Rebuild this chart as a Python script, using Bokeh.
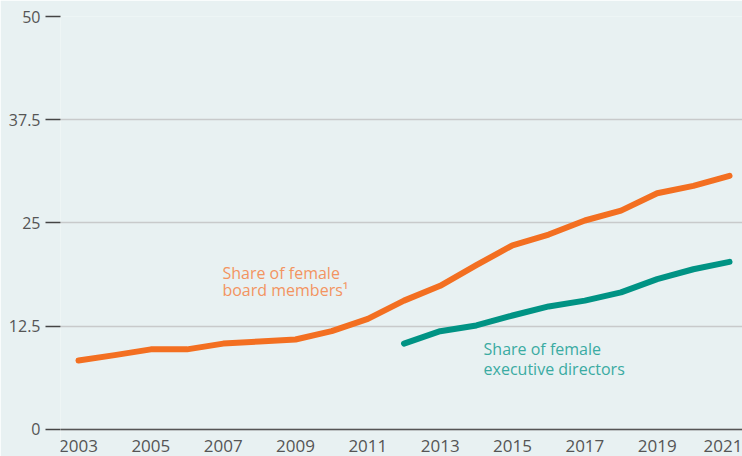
from bokeh.plotting import figure
from bokeh.models import FixedTicker, Range1d
from bokeh.core.properties import value
from bokeh.embed import file_html
from bokeh.resources import INLINE

# ---- data ----
years_board = [2003, 2004, 2005, 2006, 2007, 2008, 2009, 2010, 2011, 2012,
               2013, 2014, 2015, 2016, 2017, 2018, 2019, 2020, 2021]
share_board = [8.35, 9.0, 9.7, 9.7, 10.4, 10.65, 10.9, 11.9, 13.4, 15.6,
               17.4, 19.9, 22.3, 23.6, 25.3, 26.5, 28.6, 29.5, 30.7]

years_exec = [2012, 2013, 2014, 2015, 2016, 2017, 2018, 2019, 2020, 2021]
share_exec = [10.4, 11.9, 12.6, 13.8, 14.9, 15.6, 16.6, 18.2, 19.4, 20.3]

x_ticks = [2003, 2005, 2007, 2009, 2011, 2013, 2015, 2017, 2019, 2021]
y_ticks = [0, 12.5, 25, 37.5, 50]
y_tick_labels = {0: "0", 12.5: "12.5", 25: "25", 37.5: "37.5", 50: "50"}

board_label = ["Share of female", "board members\u00b9"]
board_label_x = [2006.98, 2006.98]
board_label_y = [18.95, 16.83]

exec_label = ["Share of female", "executive directors"]
exec_label_x = [2014.2, 2014.2]
exec_label_y = [9.69, 7.38]

# ---- style ----
BG = "#e8f1f2"
ORANGE = "#f36f21"
TEAL = "#009384"
ORANGE_TXT = "#f39461"
TEAL_TXT = "#3aaba2"
TXT = "#555555"
FONT = "Open Sans"

p = figure(width=742, height=456, output_backend="svg", toolbar_location=None,
           x_range=Range1d(2002.502, 2021.359), y_range=Range1d(-3.27, 50),
           min_border_left=60, min_border_right=0, min_border_top=16,
           min_border_bottom=0)
p.background_fill_color = BG
p.border_fill_color = BG
p.outline_line_color = None

p.xgrid.grid_line_color = None
p.ygrid.grid_line_color = "#c8cacb"
p.ygrid.grid_line_width = 1.5
p.ygrid.ticker = FixedTicker(ticks=y_ticks)

# y axis
p.yaxis.ticker = FixedTicker(ticks=y_ticks)
p.yaxis.major_label_overrides = y_tick_labels
p.yaxis.axis_line_color = None
p.yaxis.major_tick_out = 15
p.yaxis.major_tick_in = 0
p.yaxis.major_tick_line_color = "#444444"
p.yaxis.major_tick_line_width = 1.5
p.yaxis.minor_tick_line_color = None
p.yaxis.major_label_standoff = 5
p.yaxis.major_label_text_font = FONT
p.yaxis.major_label_text_font_size = "16px"
p.yaxis.major_label_text_color = TXT

# x axis (drawn at y = 0 inside the frame)
p.xaxis.fixed_location = 0
p.xaxis.ticker = FixedTicker(ticks=x_ticks)
p.xaxis.axis_line_color = "#555555"
p.xaxis.axis_line_width = 1.5
p.xaxis.major_tick_line_color = None
p.xaxis.minor_tick_line_color = None
p.xaxis.major_label_standoff = 5
p.xaxis.major_label_text_font = FONT
p.xaxis.major_label_text_font_size = "17px"
p.xaxis.major_label_text_color = TXT

# lines
p.line(years_board, share_board, line_color=ORANGE, line_width=6,
       line_cap="round", line_join="round")
p.line(years_exec, share_exec, line_color=TEAL, line_width=6,
       line_cap="round", line_join="round")

# labels
p.text(x=board_label_x, y=board_label_y, text=board_label,
       text_color=ORANGE_TXT, text_font=value(FONT), text_font_size="16px",
       text_baseline="alphabetic", text_align="left")
p.text(x=exec_label_x, y=exec_label_y, text=exec_label,
       text_color=TEAL_TXT, text_font=value(FONT), text_font_size="16px",
       text_baseline="alphabetic", text_align="left")

open("out.html", "w").write(file_html(p, INLINE))
